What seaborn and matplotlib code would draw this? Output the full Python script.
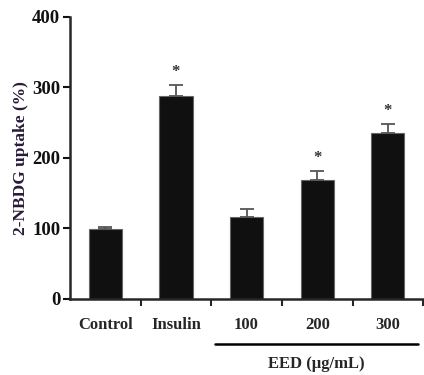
import numpy as np
import pandas as pd
import matplotlib
matplotlib.use("Agg")
import matplotlib.pyplot as plt
import seaborn as sns

# values
groups = ["Control", "Insulin", "100", "200", "300"]
uptake = [99, 287, 116, 168, 235]
sem = [2, 16, 11, 13, 13]
signif = ["", "*", "", "*", "*"]

sns.set_style("ticks")
plt.rcParams["font.family"] = ["Liberation Serif", "DejaVu Serif"]
plt.rcParams["font.weight"] = "bold"

df = pd.DataFrame({"group": groups, "uptake": uptake})

fig = plt.figure(figsize=(4.24, 3.75), dpi=100)
ax = fig.add_axes([0.165, 0.204, 0.833, 0.751])

sns.barplot(data=df, x="group", y="uptake", color="#101010",
            width=0.47, edgecolor="#666666", linewidth=0.8, ax=ax)
for patch in ax.patches:
    patch.set_facecolor("#101010")

x = np.arange(len(groups))
ax.errorbar(x, uptake, yerr=[np.zeros(len(sem)), sem], fmt="none",
            ecolor="#555555", elinewidth=1.3, capsize=5, capthick=1.3)
for xi, yi, e, s in zip(x, uptake, sem, signif):
    if s:
        ax.text(xi, yi + e + 18, s, ha="center", va="center", fontsize=12,
                fontweight="bold", color="#333333")

ax.set_xlim(-0.5, 4.5)
ax.set_ylim(0, 400)
ax.set_yticks([0, 100, 200, 300, 400])
ax.set_xlabel("")
ax.set_ylabel("2-NBDG uptake (%)", fontsize=12.5, fontweight="bold",
              color="#2a1a3a", labelpad=2)

ax.tick_params(axis="y", labelsize=13.5, length=5, width=1.5, pad=2,
               colors="#111111")
ax.tick_params(axis="x", which="major", length=0, labelsize=12, pad=13)
ax.set_xticks([0.5, 1.5, 2.5, 3.5, 4.5], minor=True)
ax.tick_params(axis="x", which="minor", length=5, width=1.5, direction="out")
for lab in ax.get_xticklabels() + ax.get_yticklabels():
    lab.set_fontweight("bold")

for side in ["left", "bottom"]:
    ax.spines[side].set_linewidth(1.8)
sns.despine(ax=ax)

# bracket for the EED doses
fig.add_artist(plt.Line2D([215 / 424, 418 / 424], [1 - 344 / 375, 1 - 344 / 375],
                          color="black", linewidth=1.8))
fig.text(316 / 424, 1 - 364 / 375, "EED (μg/mL)", ha="center", va="center",
         fontsize=12, fontweight="bold")

fig.savefig("out.png", dpi=100)
